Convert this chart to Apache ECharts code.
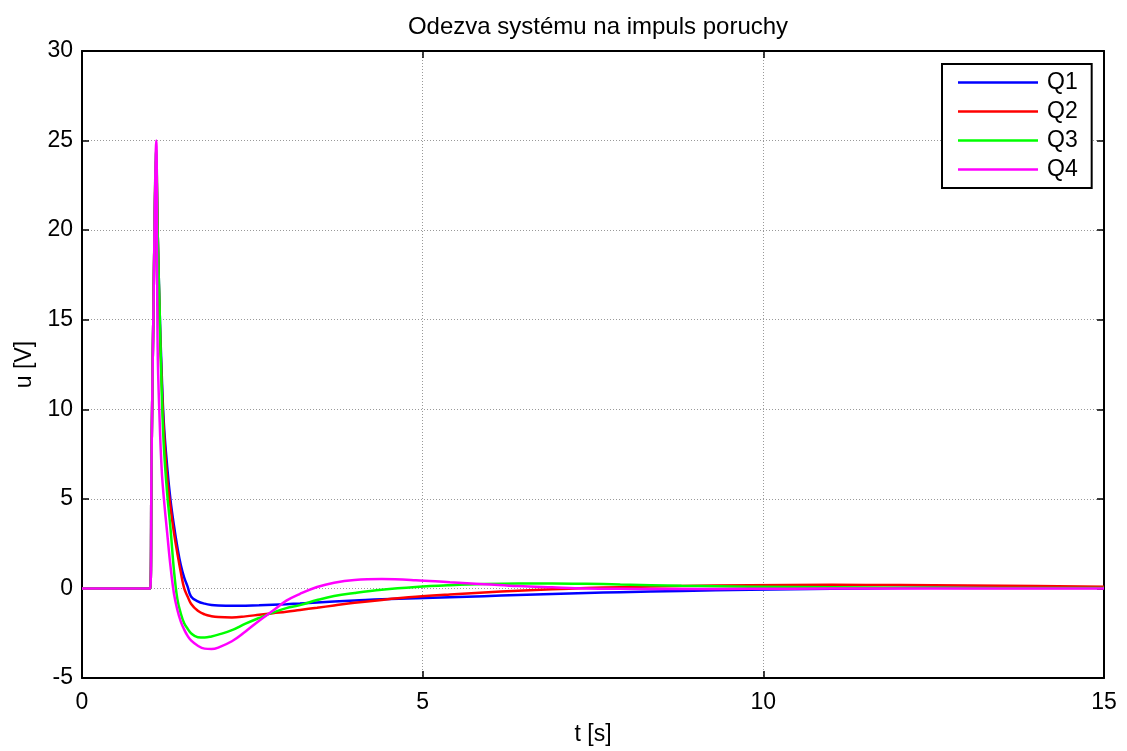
<!DOCTYPE html>
<html>
<head>
<meta charset="utf-8">
<script src="https://cdn.jsdelivr.net/npm/echarts@6/dist/echarts.min.js"></script>
<style>
html,body{margin:0;padding:0;background:#fff;}
#chart{width:1127px;height:751px;}
</style>
</head>
<body>
<div id="chart"></div>
<script>
const titleText = 'Odezva systému na impuls poruchy';
const xName = 't [s]';
const yName = 'u [V]';
const seriesNames = ['Q1', 'Q2', 'Q3', 'Q4'];
const seriesColors = ['#0000ff', '#ff0000', '#00ff00', '#ff00ff'];

const t = [0, 1.0, 1.02, 1.05, 1.09, 1.11, 1.14, 1.17, 1.2, 1.25, 1.3, 1.35, 1.4, 1.45, 1.5, 1.55, 1.6, 1.7, 1.8, 1.9, 2.0, 2.2, 2.4, 2.6, 2.8, 3.0, 3.2, 3.45, 3.7, 4.0, 4.4, 4.9, 5.4, 5.9, 6.4, 6.9, 7.4, 7.9, 8.8, 9.8, 11, 12, 13, 14, 15];

const q1 = [0, 0, 7, 16, 23.5, 20, 15.5, 12, 9.3, 6.8, 4.9, 3.5, 2.3, 1.3, 0.6, 0.1, -0.45, -0.72, -0.85, -0.92, -0.95, -0.97, -0.96, -0.94, -0.91, -0.88, -0.84, -0.78, -0.73, -0.68, -0.61, -0.55, -0.49, -0.43, -0.37, -0.31, -0.26, -0.21, -0.14, -0.08, -0.02, 0.02, 0.04, 0.05, 0.05];
const q2 = [0, 0, 7, 16, 24, 20, 15, 11.5, 8.9, 6.2, 4.5, 3.1, 1.95, 0.9, 0.0, -0.45, -0.85, -1.25, -1.45, -1.55, -1.6, -1.62, -1.56, -1.47, -1.38, -1.3, -1.2, -1.08, -0.95, -0.8, -0.64, -0.47, -0.34, -0.23, -0.13, -0.05, 0.02, 0.07, 0.13, 0.18, 0.2, 0.19, 0.16, 0.13, 0.1];
const q3 = [0, 0, 7, 16, 24.5, 20, 15.5, 11, 8, 5.3, 3.3, 1.0, -0.6, -1.4, -1.95, -2.25, -2.5, -2.72, -2.74, -2.68, -2.58, -2.33, -1.97, -1.65, -1.35, -1.1, -0.93, -0.65, -0.42, -0.25, -0.07, 0.08, 0.18, 0.25, 0.28, 0.28, 0.26, 0.22, 0.15, 0.1, 0.06, 0.04, 0.03, 0.02, 0.02];
const q4 = [0, 0, 7, 16, 25, 13.5, 9.3, 6.6, 5.1, 3.1, 1.2, -0.3, -1.2, -1.85, -2.3, -2.65, -2.9, -3.2, -3.36, -3.38, -3.3, -2.95, -2.4, -1.8, -1.25, -0.68, -0.3, 0.08, 0.32, 0.47, 0.52, 0.46, 0.34, 0.24, 0.13, 0.06, 0.0, -0.02, -0.03, -0.02, -0.01, 0, 0, 0, 0];

const allValues = [q1, q2, q3, q4];

const font = 'Liberation Sans, Arial, sans-serif';

const chart = echarts.init(document.getElementById('chart'), null, {renderer: 'canvas'});

const series = allValues.map((vals, i) => ({
  name: seriesNames[i],
  type: 'line',
  xAxisIndex: 0,
  yAxisIndex: 0,
  data: t.map((tt, k) => [tt, vals[k]]),
  showSymbol: false,
  symbol: 'none',
  smooth: 0.4,
  lineStyle: {color: seriesColors[i], width: 2.5},
  itemStyle: {color: seriesColors[i]},
  z: 2 + i
}));

const option = {
  animation: false,
  backgroundColor: '#ffffff',
  title: {
    text: titleText,
    left: 593,
    textAlign: 'center',
    top: 10,
    textStyle: {fontFamily: font, fontSize: 24, fontWeight: 'normal', color: '#000'}
  },
  legend: {
    orient: 'vertical',
    left: 942,
    top: 64,
    data: seriesNames.map(n => ({name: n, icon: 'rect'})),
    itemWidth: 80,
    itemHeight: 2.5,
    itemGap: 4,
    padding: [6, 14, 6, 16],
    borderColor: '#000',
    borderWidth: 2,
    backgroundColor: '#fff',
    textStyle: {fontFamily: font, fontSize: 23, color: '#000', lineHeight: 25, padding: [0, 0, 0, 4]}
  },
  grid: {left: 82, right: 23, top: 51, bottom: 70, containLabel: false},
  xAxis: [{
    type: 'value',
    min: 0, max: 15, interval: 5,
    position: 'bottom',
    name: xName,
    nameLocation: 'middle',
    nameGap: 45,
    nameTextStyle: {fontFamily: font, fontSize: 23, color: '#000'},
    axisLine: {show: true, onZero: false, lineStyle: {color: '#000', width: 2}},
    axisTick: {show: true, inside: true, length: 7, lineStyle: {color: '#000', width: 1.5}},
    axisLabel: {fontFamily: font, fontSize: 23, color: '#000', margin: 13},
    splitLine: {show: true, lineStyle: {color: '#999', type: [1, 2], width: 1}}
  }, {
    type: 'value',
    min: 0, max: 15, interval: 5,
    position: 'top',
    axisLine: {show: true, onZero: false, lineStyle: {color: '#000', width: 2}},
    axisTick: {show: true, inside: true, length: 7, lineStyle: {color: '#000', width: 1.5}},
    axisLabel: {show: false},
    splitLine: {show: false}
  }],
  yAxis: [{
    type: 'value',
    min: -5, max: 30, interval: 5,
    position: 'left',
    name: yName,
    nameLocation: 'middle',
    nameGap: 40,
    nameRotate: 90,
    nameTextStyle: {fontFamily: font, fontSize: 23, color: '#000'},
    axisLine: {show: true, onZero: false, lineStyle: {color: '#000', width: 2}},
    axisTick: {show: true, inside: true, length: 7, lineStyle: {color: '#000', width: 1.5}},
    axisLabel: {fontFamily: font, fontSize: 23, color: '#000', margin: 9},
    splitLine: {show: true, lineStyle: {color: '#999', type: [1, 2], width: 1}}
  }, {
    type: 'value',
    min: -5, max: 30, interval: 5,
    position: 'right',
    axisLine: {show: true, onZero: false, lineStyle: {color: '#000', width: 2}},
    axisTick: {show: true, inside: true, length: 7, lineStyle: {color: '#000', width: 1.5}},
    axisLabel: {show: false},
    splitLine: {show: false}
  }],
  series: series
};

chart.setOption(option);
</script>
</body>
</html>
